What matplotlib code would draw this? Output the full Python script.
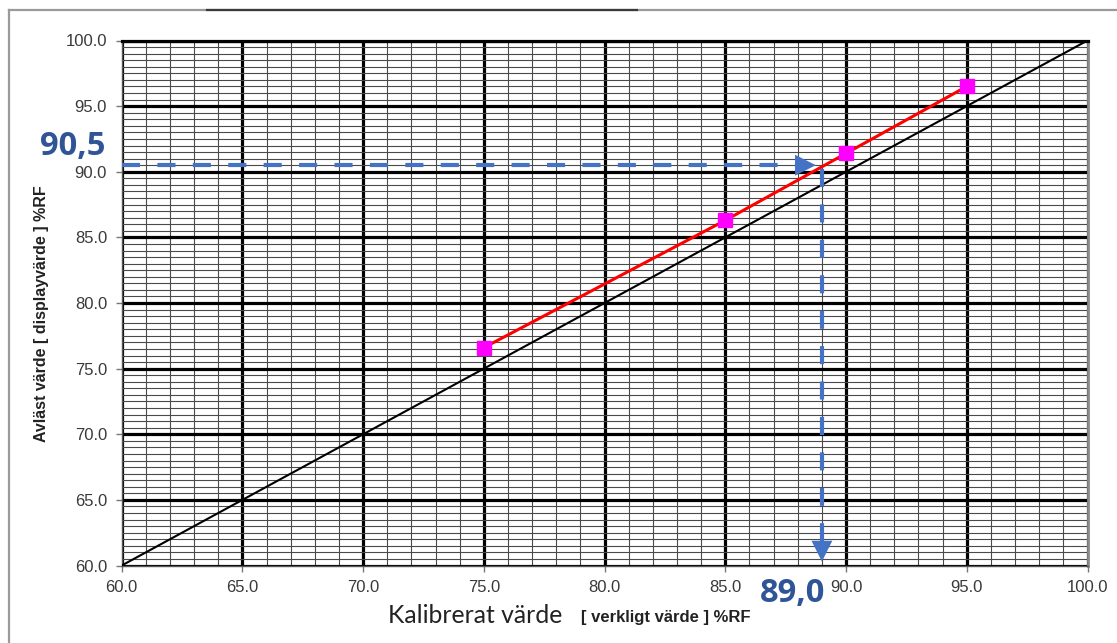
import matplotlib
matplotlib.use("Agg")
import matplotlib.pyplot as plt
from matplotlib.ticker import MultipleLocator, FormatStrFormatter
from matplotlib.lines import Line2D
from matplotlib.patches import FancyArrowPatch

plt.rcParams["lines.scale_dashes"] = False

# Calibration readings: reference value vs. displayed value (%RF)
kalibrerat = [75.0, 85.0, 90.0, 95.0]
avlast = [76.6, 86.3, 91.4, 96.5]

# Reading example: displayed 90,5 corresponds to true 89,0
avlast_exempel = 90.5
kalibrerat_exempel = 89.0
lbl_avlast = "90,5"
lbl_kalibrerat = "89,0"

ideal = [60.0, 100.0]
axis_min, axis_max = 60.0, 100.0

W, H = 1117, 643
fig = plt.figure(figsize=(W / 100, H / 100), dpi=100)
fig.patch.set_facecolor("white")

# outer frame
fig.add_artist(Line2D([9 / W, 9 / W], [0, 1 - 10 / H], transform=fig.transFigure,
                      color="#9a9a9a", lw=1.6))
fig.add_artist(Line2D([9 / W, 1], [1 - 10 / H, 1 - 10 / H], transform=fig.transFigure,
                      color="#9a9a9a", lw=1.6))
fig.add_artist(Line2D([207 / W, 637 / W], [1 - 10 / H, 1 - 10 / H], transform=fig.transFigure,
                      color="#3a3a3a", lw=1.6))

left, right = 121.7 / W, 1087.5 / W
top, bottom = 1 - 40.5 / H, 1 - 565.5 / H
ax = fig.add_axes([left, bottom, right - left, top - bottom])

ax.set_xlim(axis_min, axis_max)
ax.set_ylim(axis_min, axis_max)

ax.xaxis.set_major_locator(MultipleLocator(5))
ax.xaxis.set_minor_locator(MultipleLocator(1))
ax.yaxis.set_major_locator(MultipleLocator(5))
ax.yaxis.set_minor_locator(MultipleLocator(0.5))
ax.xaxis.set_major_formatter(FormatStrFormatter("%.1f"))
ax.yaxis.set_major_formatter(FormatStrFormatter("%.1f"))

ax.set_axisbelow(True)
ax.grid(which="minor", color="#4a4a4a", lw=0.8)
ax.grid(which="major", color="black", lw=2.3)

ax.tick_params(which="major", direction="out", length=4.5, width=1.0, color="#777777",
               labelsize=12, labelcolor="#3a3a3a", pad=6)
ax.tick_params(which="minor", length=0)
for lab in ax.get_xticklabels() + ax.get_yticklabels():
    lab.set_family("Liberation Sans")

for side in ("left", "bottom"):
    ax.spines[side].set_color("#555555")
    ax.spines[side].set_linewidth(1.0)
ax.spines["right"].set_color("#8a8a8a")
ax.spines["right"].set_linewidth(2.0)
ax.spines["top"].set_color("black")
ax.spines["top"].set_linewidth(2.3)

# ideal 1:1 line
ax.plot(ideal, ideal, color="black", lw=1.5, zorder=3)

# calibration curve
ax.plot(kalibrerat, avlast, color="#ff0000", lw=2.2, zorder=4)
ax.plot(kalibrerat, avlast, ls="none", marker="s", ms=9.5, mfc="#ff00ff", mec="#ff00ff",
        zorder=5)

blue = "#4472c4"
# horizontal dashed reading line with arrow
ax.plot([axis_min, kalibrerat_exempel - 1.0], [avlast_exempel, avlast_exempel],
        color=blue, lw=3.0, dashes=(13, 12.5), solid_capstyle="butt", zorder=6)
ax.add_patch(FancyArrowPatch((kalibrerat_exempel - 1.2, avlast_exempel),
                             (kalibrerat_exempel - 0.25, avlast_exempel),
                             arrowstyle="-|>,head_length=15,head_width=7.5",
                             mutation_scale=1, color=blue, lw=0, zorder=6,
                             shrinkA=0, shrinkB=0))
# vertical dashed reading line with arrow
ax.plot([kalibrerat_exempel, kalibrerat_exempel], [avlast_exempel - 0.3, axis_min + 1.6],
        color=blue, lw=3.0, dashes=(13, 12.5), solid_capstyle="butt", zorder=6,
        clip_on=False)
ax.add_patch(FancyArrowPatch((kalibrerat_exempel, axis_min + 2.0),
                             (kalibrerat_exempel, axis_min + 0.3),
                             arrowstyle="-|>,head_length=15,head_width=7.5",
                             mutation_scale=1, color=blue, lw=0, zorder=6,
                             shrinkA=0, shrinkB=0))

dark_blue = "#2f5597"
fig.text(40 / W, 1 - 155 / H, lbl_avlast, fontsize=23.5, fontweight="bold",
         family="Open Sans", color=dark_blue, ha="left", va="baseline")
fig.text(760 / W, 1 - 602 / H, lbl_kalibrerat, fontsize=23.5, fontweight="bold",
         family="Open Sans", color=dark_blue, ha="left", va="baseline")

# axis titles
fig.text(42 / W, 1 - 314 / H, "Avläst värde [ displayvärde ] %RF", rotation=90,
         fontsize=11.5, fontweight="bold", family="Liberation Sans", color="#222222",
         ha="center", va="center")
fig.text(388 / W, 1 - 623 / H, "Kalibrerat värde", fontsize=17.8, family="Lato",
         color="#222222", ha="left", va="baseline")
fig.text(581 / W, 1 - 622 / H, "[ verkligt värde ] %RF", fontsize=12, fontweight="bold",
         family="Liberation Sans", color="#222222", ha="left", va="baseline")

fig.savefig("out.png", dpi=100, facecolor="white")
